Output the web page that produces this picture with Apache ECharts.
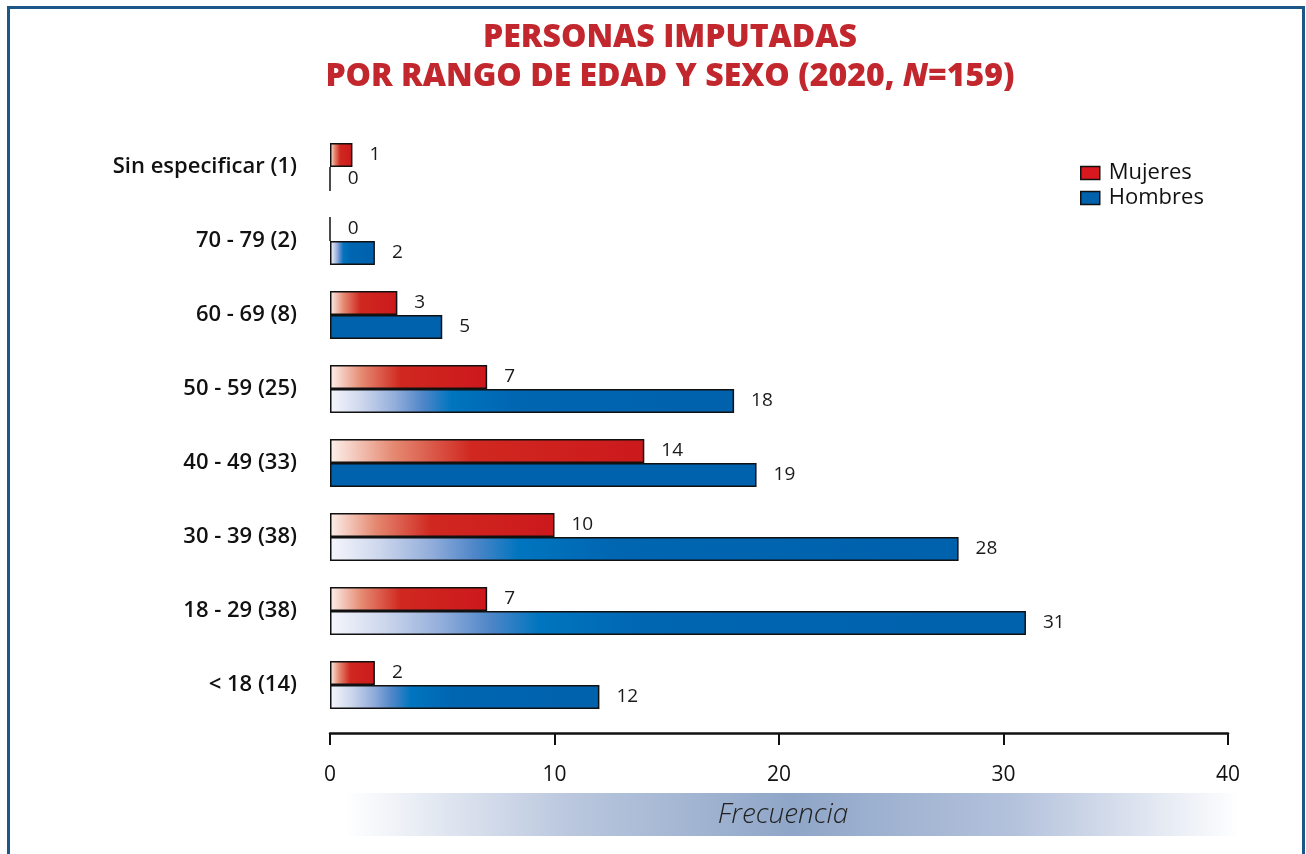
<!DOCTYPE html>
<html lang="es">
<head>
    <meta charset="UTF-8">
    <title>Personas imputadas</title>
    <script type="text/javascript" src="https://cdn.jsdelivr.net/npm/echarts@6/dist/echarts.min.js"></script>
    <style>
        html, body { margin: 0; padding: 0; background: #fff; }
    </style>
</head>
<body>
<div id="main" style="width: 1306px;height:854px;"></div>

<script type="text/javascript">
    // datos
    var categorias = ['Sin especificar (1)', '70 - 79 (2)', '60 - 69 (8)', '50 - 59 (25)',
        '40 - 49 (33)', '30 - 39 (38)', '18 - 29 (38)', '< 18 (14)'];
    var mujeres = [1, 0, 3, 7, 14, 10, 7, 2];
    var hombres = [0, 2, 5, 18, 19, 28, 31, 12];
    var ejeTicks = [0, 10, 20, 30, 40];

    var fuente = '"Open Sans", Lato, sans-serif';

    var rojoGrad = {
        type: 'linear', x: 0, y: 0, x2: 1, y2: 0,
        colorStops: [
            {offset: 0, color: '#fcf1ec'},
            {offset: 0.2, color: '#e58a72'},
            {offset: 0.45, color: '#d02820'},
            {offset: 1, color: '#cc191c'}
        ]
    };
    var azulGrad = {
        type: 'linear', x: 0, y: 0, x2: 1, y2: 0,
        colorStops: [
            {offset: 0, color: '#f6f7fd'},
            {offset: 0.08, color: '#ccd6ec'},
            {offset: 0.16, color: '#93aedb'},
            {offset: 0.23, color: '#4f86c8'},
            {offset: 0.3, color: '#0075bf'},
            {offset: 0.45, color: '#0066b2'},
            {offset: 1, color: '#0061ac'}
        ]
    };
    // las barras de 60-69 y 40-49 hombres son de color liso
    var azulLiso = ['60 - 69 (8)', '40 - 49 (33)'];

    var hombresData = hombres.map(function (v, i) {
        return {
            value: v,
            itemStyle: {color: azulLiso.indexOf(categorias[i]) >= 0 ? '#0061ac' : azulGrad}
        };
    });

    var etiqueta = {show: true, position: 'right', distance: 17, fontSize: 19, color: '#1a1a1a', fontFamily: fuente, fontWeight: 'normal'};

    var myChart = echarts.init(document.getElementById('main'));
    var option = {
        backgroundColor: '#fff',
        animation: false,
        textStyle: {fontFamily: fuente},
        title: {
            text: 'PERSONAS IMPUTADAS\nPOR RANGO DE EDAD Y SEXO (2020, {n|N}=159)',
            left: 665,
            textAlign: 'center',
            top: 13,
            textStyle: {
                fontFamily: fuente,
                fontSize: 32,
                fontWeight: 800,
                color: '#c1272d',
                lineHeight: 39,
                rich: {
                    n: {
                        fontFamily: fuente,
                        fontSize: 32,
                        fontWeight: 800,
                        fontStyle: 'italic',
                        color: '#c1272d'
                    }
                }
            }
        },
        legend: {
            orient: 'vertical',
            left: 1075,
            top: 157,
            icon: 'rect',
            itemWidth: 19,
            itemHeight: 13,
            itemGap: 3,
            textStyle: {fontSize: 22, color: '#111', fontFamily: fuente, padding: [0, 0, 0, 4]},
            data: [
                {name: 'Mujeres', itemStyle: {color: '#d7191f', borderColor: '#111', borderWidth: 1.5}},
                {name: 'Hombres', itemStyle: {color: '#0061ac', borderColor: '#111', borderWidth: 1.5}}
            ]
        },
        graphic: [
            {
                type: 'rect',
                shape: {x: 8.5, y: 7.5, width: 1295, height: 900},
                style: {fill: 'none', stroke: '#1d5689', lineWidth: 3},
                silent: true
            },
            {
                type: 'rect',
                shape: {x: 345, y: 793, width: 895, height: 43},
                style: {
                    fill: {
                        type: 'linear', x: 0, y: 0, x2: 1, y2: 0,
                        colorStops: [
                            {offset: 0, color: '#ffffff'},
                            {offset: 0.25, color: '#bac7de'},
                            {offset: 0.5, color: '#8fa6c8'},
                            {offset: 0.75, color: '#b4c2dc'},
                            {offset: 1, color: '#ffffff'}
                        ]
                    }
                },
                z: -1
            },
            {
                type: 'text',
                x: 783,
                y: 815,
                style: {
                    text: 'Frecuencia',
                    fontSize: 28,
                    fontStyle: 'italic',
                    fontFamily: fuente,
                    fontWeight: 300,
                    fill: '#222',
                    align: 'center',
                    verticalAlign: 'middle'
                }
            }
        ],
        grid: {left: 330, top: 130, width: 898, height: 592, containLabel: false},
        xAxis: {
            type: 'value',
            min: ejeTicks[0],
            max: ejeTicks[ejeTicks.length - 1],
            interval: 10,
            offset: 11,
            splitLine: {show: false},
            axisLine: {show: true, lineStyle: {color: '#111', width: 2.5}},
            axisTick: {show: true, length: 12, lineStyle: {color: '#111', width: 2}},
            axisLabel: {margin: 32, fontSize: 21, color: '#111', fontFamily: fuente}
        },
        yAxis: {
            type: 'category',
            data: categorias,
            inverse: true,
            axisLine: {show: false},
            axisTick: {show: false},
            axisLabel: {margin: 33, fontSize: 22, color: '#111', fontWeight: 600, fontFamily: fuente}
        },
        series: [
            {
                name: 'Mujeres',
                type: 'bar',
                data: mujeres,
                barWidth: 24,
                barGap: '0%',
                itemStyle: {color: rojoGrad, borderColor: '#111', borderWidth: 1.5},
                label: etiqueta
            },
            {
                name: 'Hombres',
                type: 'bar',
                data: hombresData,
                barWidth: 24,
                itemStyle: {color: azulGrad, borderColor: '#111', borderWidth: 1.5},
                label: etiqueta
            }
        ]
    };
    myChart.setOption(option);
</script>
</body>
</html>
